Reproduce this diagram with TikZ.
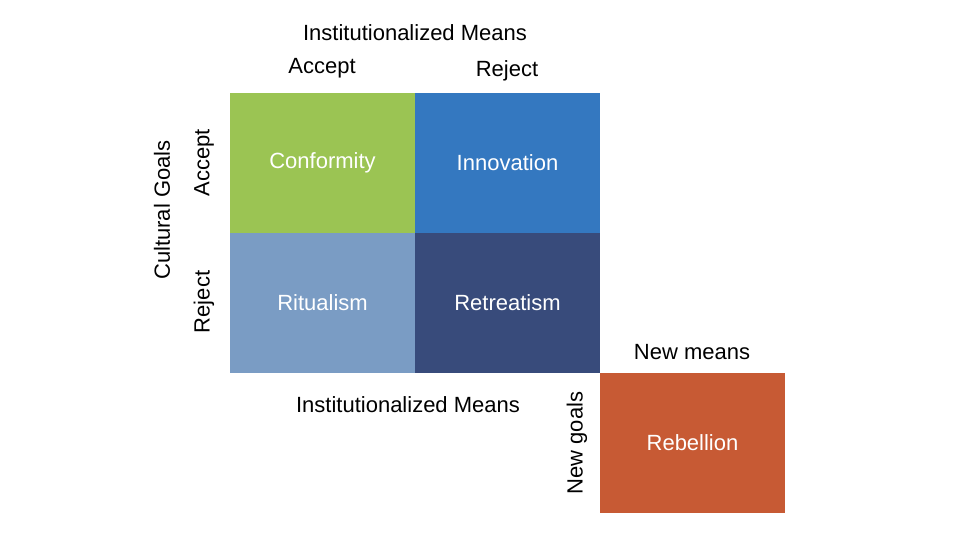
\documentclass[tikz,border=0pt]{standalone}
\usepackage{fontspec}
\setmainfont{Liberation Sans}
\usepackage{xcolor}
\usetikzlibrary{positioning}

\definecolor{conf-green}{HTML}{9BC453}
\definecolor{inno-blue}{HTML}{3478C0}
\definecolor{ritu-blue}{HTML}{7A9CC4}
\definecolor{retr-navy}{HTML}{384B7B}
\definecolor{rebe-orange}{HTML}{C75A34}

\begin{document}
\begin{tikzpicture}
[
x=1pt, y=-1pt,
cell-a/.style={minimum width=185pt, minimum height=140pt, inner sep=0pt, outer sep=0pt, text=white, font=\fontsize{22}{26}\selectfont},
text-a/.style={black, inner sep=0pt, font=\fontsize{22}{26}\selectfont}
]
\useasboundingbox (0,0) rectangle (956,558);
\node (cell-1)     [cell-a, fill=conf-green]                       at (322.5,163) {Conformity};
\node (cell-2)     [cell-a, fill=inno-blue,   right = 0mm of cell-1]              {Innovation};
\node (cell-3)     [cell-a, fill=ritu-blue,   below = 0mm of cell-1]              {Ritualism};
\node (cell-4)     [cell-a, fill=retr-navy,   right = 0mm of cell-3]              {Retreatism};
\node (cell-5)     [cell-a, fill=rebe-orange, below right = 0mm and 0mm of cell-4] {Rebellion};
% labels round the grid
\node (top-title)  [text-a]             at (415,33)  {Institutionalized Means};
\node (top-acc)    [text-a]             at (322,68)  {Accept};
\node (top-rej)    [text-a]             at (507,71)  {Reject};
\node (side-title) [text-a, rotate=90]  at (162,210) {Cultural Goals};
\node (side-acc)   [text-a, rotate=90]  at (204,163) {Accept};
\node (side-rej)   [text-a, rotate=90]  at (204,302) {Reject};
\node (bot-title)  [text-a]             at (408,405) {Institutionalized Means};
\node (new-means)  [text-a]             at (692,352) {New means};
\node (new-goals)  [text-a, rotate=90]  at (577,443) {New goals};
\end{tikzpicture}
\end{document}
